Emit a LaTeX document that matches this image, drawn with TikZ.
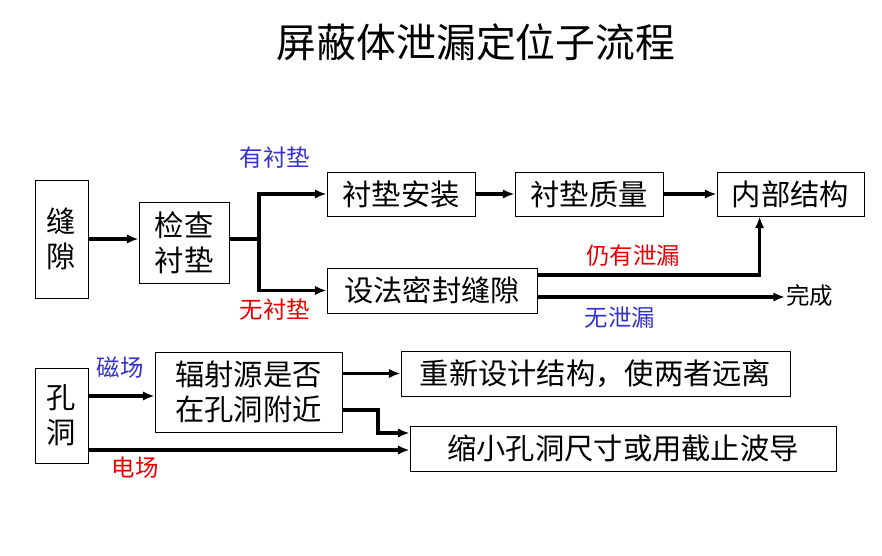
\documentclass[tikz,border=0pt]{standalone}
\usepackage{fontspec}
\setmainfont{Noto Sans CJK SC}
\usetikzlibrary{arrows.meta,calc,positioning}
\definecolor{lblblue}{RGB}{51,51,204}
\definecolor{lblred}{RGB}{230,0,0}
\tikzstyle{flow} = [
  -{Latex[length=10pt,width=8pt]},
  line width=3pt,
]
\begin{document}
\begin{tikzpicture}[x=0.03cm,y=-0.03cm,
    box/.style={draw, line width=0.7pt, inner sep=0pt, font=\fontsize{25}{30}\selectfont, align=center},
    lbl/.style={font=\fontsize{20}{22}\selectfont, inner sep=1pt}]
  \useasboundingbox (0,0) rectangle (882,556);
  \node [font=\fontsize{34}{38}\selectfont] (title) at (476,42) {屏蔽体泄漏定位子流程};
  % gap branch
  \node [box, minimum width=53*0.03cm, minimum height=118*0.03cm] (gap) at (61.5,239) {缝\\隙};
  \node [box, minimum width=90*0.03cm, minimum height=81*0.03cm] (check) at (184,242.5) {检查\\衬垫};
  \node [box, minimum width=148*0.03cm, minimum height=44*0.03cm] (mount) at (401,194) {衬垫安装};
  \node [box, minimum width=148*0.03cm, minimum height=44*0.03cm] (quality) at (589,194) {衬垫质量};
  \node [box, minimum width=147*0.03cm, minimum height=44*0.03cm] (inner) at (790.5,194) {内部结构};
  \node [box, minimum width=210*0.03cm, minimum height=45*0.03cm] (seal) at (432,290.5) {设法密封缝隙};
  \node [lbl, anchor=west] (done) at (785,296) {完成};
  \coordinate (split) at (259,239);
  \coordinate (gapout) at (88,239);
  \coordinate (leakout) at ($(seal.east)+(0,-15.5)$);
  \coordinate (doneout) at ($(seal.east)+(0,6.5)$);
  \draw [flow] (gapout) -- (check.west |- gapout);
  \draw [line width=3pt] (check.east |- split) -- (split);
  \draw [flow] ($(split)+(0,1.5)$) |- (mount.west);
  \draw [flow] ($(split)+(0,-1.5)$) |- (seal.west);
  \node [lbl, text=lblblue] (pad) at (275,158) {有衬垫};
  \node [lbl, text=lblred] (nopad) at (275,310) {无衬垫};
  \draw [flow] (mount) -- (quality);
  \draw [flow] (quality) -- (inner);
  \draw [flow] (leakout) -| ($(inner.south west)+(43,0)$);
  \draw [flow] (doneout) -- (done.west |- doneout);
  \node [lbl, text=lblred] (leak) at (633,256) {仍有泄漏};
  \node [lbl, text=lblblue] (noleak) at (620,318) {无泄漏};
  % hole branch
  \node [box, minimum width=53*0.03cm, minimum height=95*0.03cm] (hole) at (61.5,415.5) {孔\\洞};
  \node [box, minimum width=187*0.03cm, minimum height=80*0.03cm] (source) at (248.5,392) {辐射源是否\\在孔洞附近};
  \node [box, minimum width=389*0.03cm, minimum height=45*0.03cm] (redesign) at (595.5,373.5) {重新设计结构，使两者远离};
  \node [box, minimum width=426*0.03cm, minimum height=45*0.03cm] (shrink) at (623,448.5) {缩小孔洞尺寸或用截止波导};
  \coordinate (magout) at ($(hole.east)+(0,-19.5)$);
  \coordinate (elecout) at ($(hole.east)+(0,34.5)$);
  \coordinate (nearout) at ($(source.east)+(0,18)$);
  \coordinate (shrinkin) at ($(shrink.west)+(0,-15.5)$);
  \draw [flow] (magout) -- (source.west |- magout);
  \draw [flow] (elecout) -- (shrink.west |- elecout);
  \draw [flow] (source.east |- redesign) -- (redesign.west);
  \draw [flow] (nearout) -- (378,410) |- (shrinkin);
  \node [lbl, text=lblblue] (mag) at (120,368) {磁场};
  \node [lbl, text=lblred] (elec) at (135,468) {电场};
\end{tikzpicture}
\end{document}
